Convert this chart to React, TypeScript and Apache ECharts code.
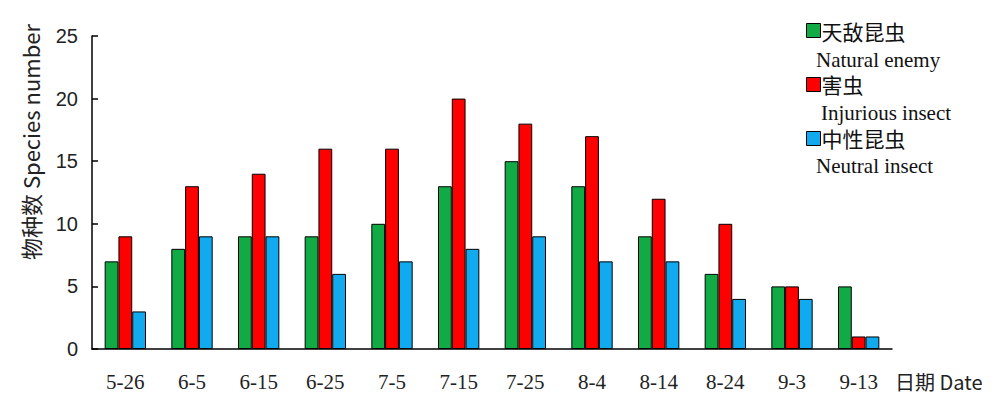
import React, { useEffect, useRef } from "react";
import * as echarts from "echarts";

const categories = ["5-26", "6-5", "6-15", "6-25", "7-5", "7-15", "7-25", "8-4", "8-14", "8-24", "9-3", "9-13"];
const naturalEnemy = [7, 8, 9, 9, 10, 13, 15, 13, 9, 6, 5, 5];
const injurious = [9, 13, 14, 16, 16, 20, 18, 17, 12, 10, 5, 1];
const neutral = [3, 9, 9, 6, 7, 8, 9, 7, 7, 4, 4, 1];
const seriesNamesCn = ["天敌昆虫", "害虫", "中性昆虫"];
const seriesNamesEn = ["Natural enemy", "Injurious insect", "Neutral insect"];
const yTicks = [0, 5, 10, 15, 20, 25];

const colors = ["#12AA45", "#FF0000", "#12AAEE"];

export default function App() {
  const ref = useRef<HTMLDivElement>(null);
  useEffect(() => {
    if (!ref.current) return;
    const chart = echarts.init(ref.current, null, { renderer: "svg" });
    const values = [naturalEnemy, injurious, neutral];
    chart.setOption({
      animation: false,
      backgroundColor: "#ffffff",
      grid: { left: 92, right: 108, top: 36, bottom: 53 },
      legend: {
        orient: "vertical",
        left: 801,
        top: 15,
        itemWidth: 14,
        itemHeight: 14,
        itemGap: 33,
        icon: "rect",
        data: seriesNamesCn,
        textStyle: {
          fontFamily: "Noto Sans CJK SC",
          fontSize: 21,
          lineHeight: 18,
          height: 18,
          color: "#111",
          padding: [0, 0, 0, -4],
        },
        itemStyle: { borderColor: "#000", borderWidth: 1 },
      },
      xAxis: {
        type: "category",
        data: categories,
        axisLine: { lineStyle: { color: "#000", width: 1.5 } },
        axisTick: { inside: true, length: 6, lineStyle: { color: "#000", width: 1.5 } },
        axisLabel: {
          margin: 22,
          fontFamily: "Liberation Serif",
          fontSize: 21,
          color: "#222",
        },
      },
      yAxis: {
        type: "value",
        min: 0,
        max: yTicks[yTicks.length - 1],
        interval: 5,
        splitLine: { show: false },
        axisLine: { show: true, lineStyle: { color: "#000", width: 1.5 } },
        axisTick: { show: true, inside: true, length: 6, lineStyle: { color: "#000", width: 1.5 } },
        axisLabel: {
          margin: 14,
          fontFamily: "Liberation Sans",
          fontSize: 20,
          color: "#222",
        },
      },
      graphic: [
        {
          type: "text",
          x: 30,
          y: 142,
          rotation: Math.PI / 2,
          style: {
            text: "物种数 Species number",
            fontFamily: "Noto Sans CJK SC",
            fontSize: 22,
            fill: "#222",
            align: "center",
            verticalAlign: "middle",
          },
        },
        {
          type: "text",
          x: 895,
          y: 381,
          style: {
            text: "日期 Date",
            fontFamily: "Noto Sans CJK SC",
            fontSize: 20,
            fill: "#222",
            align: "left",
            verticalAlign: "middle",
          },
        },
        ...seriesNamesEn.map((t, i) => ({
          type: "text",
          x: i === 1 ? 821 : 816,
          y: 60 + i * 53,
          style: {
            text: t,
            fontFamily: "Liberation Serif",
            fontSize: 21,
            lineHeight: 20,
            fill: "#111",
            align: "left",
            verticalAlign: "middle",
          },
        })),
      ],
      series: seriesNamesCn.map((name, i) => ({
        name,
        type: "bar",
        data: values[i],
        barGap: "0%",
        barCategoryGap: "38%",
        itemStyle: { color: colors[i], borderColor: "#000", borderWidth: 1 },
      })),
    });
    return () => chart.dispose();
  }, []);
  return <div ref={ref} style={{ width: 1000, height: 402, margin: -8 }} />;
}
